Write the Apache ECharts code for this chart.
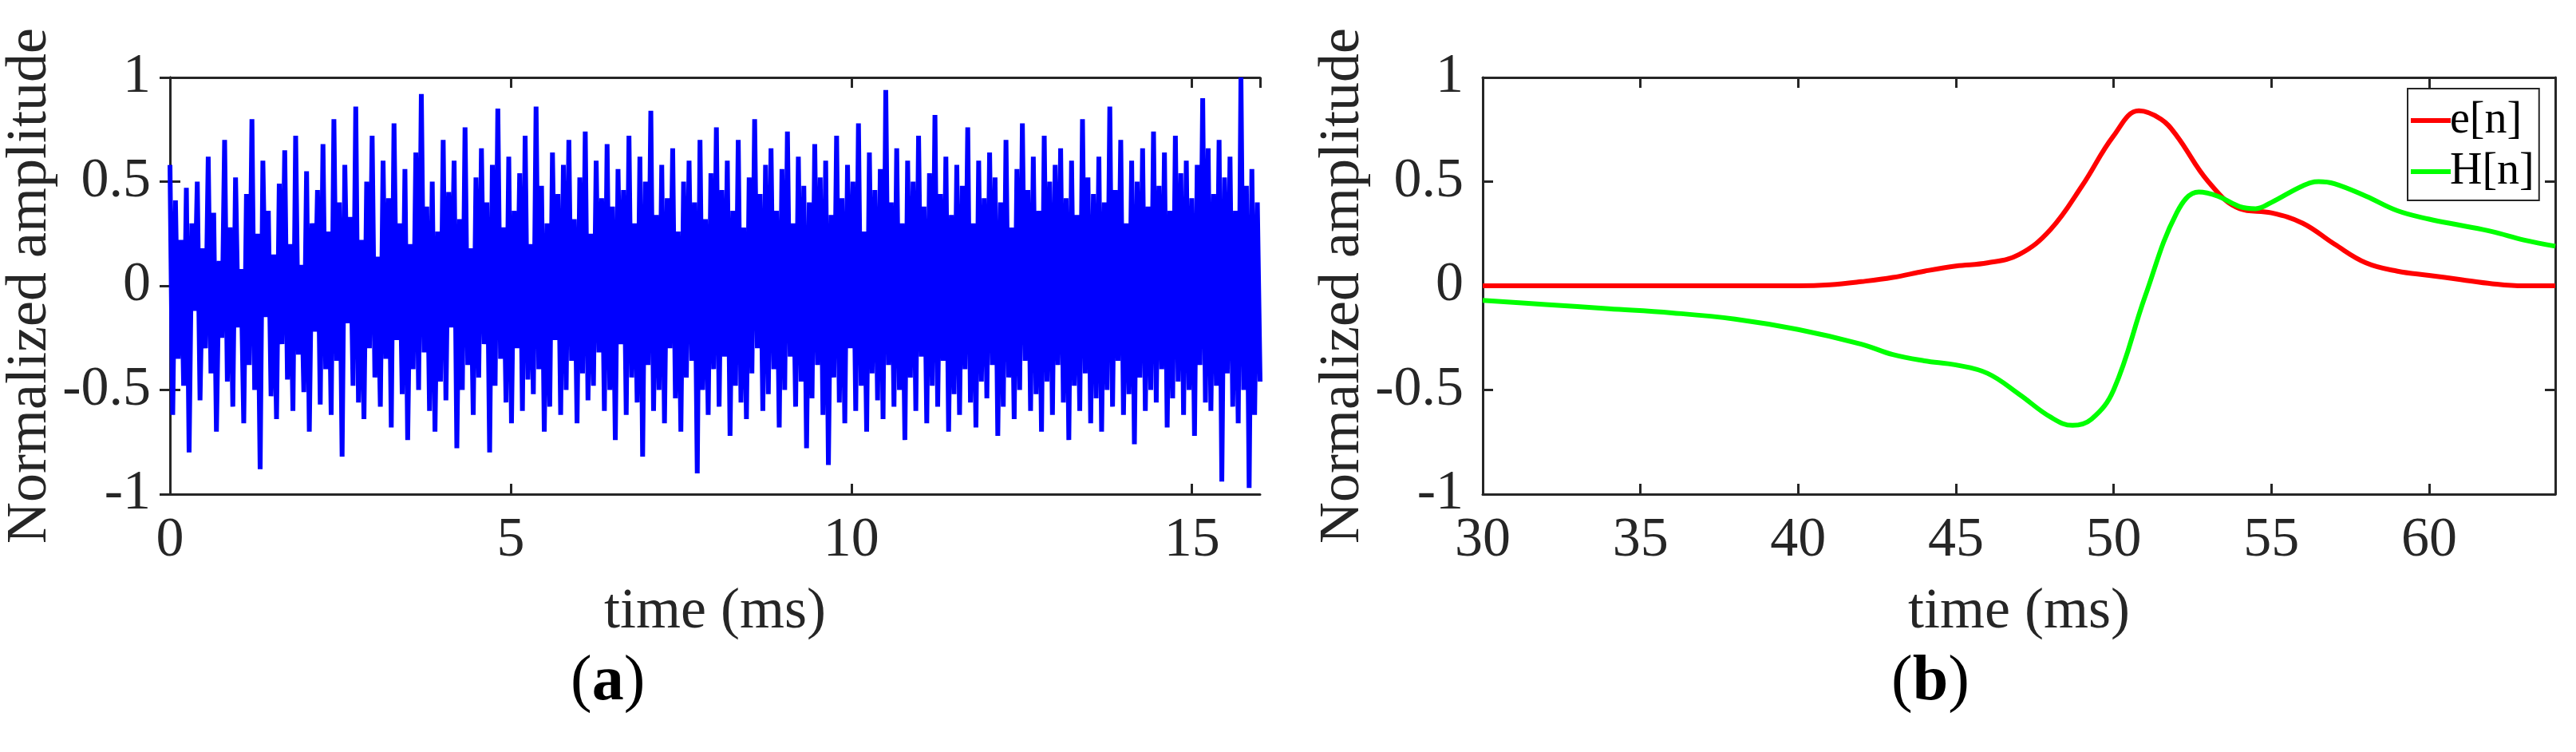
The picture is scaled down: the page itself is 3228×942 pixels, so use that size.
<!DOCTYPE html>
<html><head><meta charset="utf-8">
<script src="https://cdn.jsdelivr.net/npm/echarts@6/dist/echarts.min.js"></script>
<style>html,body{margin:0;background:#fff}#c{width:3228px;height:942px}</style>
</head><body><div id="c"></div>
<script>
// Panel (a): noise samples (0..16 ms)
const noiseVals = [
0.58,-0.62,0.41,-0.35,0.22,-0.48,0.47,-0.8,0.3,-0.12,0.5,-0.55,0.18,-0.3,0.62,-0.42,0.35,-0.7,0.12,-0.25,
0.7,-0.46,0.28,-0.58,0.52,-0.2,0.08,-0.66,0.44,-0.38,0.8,-0.5,0.25,-0.88,0.6,-0.15,0.36,-0.53,0.15,-0.64,
0.49,-0.28,0.65,-0.45,0.2,-0.6,0.72,-0.33,0.1,-0.51,0.55,-0.7,0.3,-0.22,0.46,-0.57,0.68,-0.4,0.26,-0.62,
0.8,-0.36,0.4,-0.82,0.58,-0.18,0.33,-0.48,0.86,-0.56,0.22,-0.64,0.5,-0.3,0.72,-0.44,0.14,-0.58,0.6,-0.35,
0.42,-0.68,0.78,-0.26,0.3,-0.52,0.56,-0.74,0.2,-0.4,0.64,-0.5,0.92,-0.32,0.38,-0.6,0.5,-0.7,0.26,-0.46,
0.7,-0.55,0.45,-0.2,0.6,-0.78,0.32,-0.5,0.76,-0.38,0.18,-0.62,0.52,-0.44,0.66,-0.28,0.4,-0.8,0.58,-0.48,
0.85,-0.35,0.28,-0.56,0.62,-0.66,0.36,-0.3,0.54,-0.6,0.72,-0.45,0.2,-0.52,0.86,-0.4,0.48,-0.7,0.3,-0.58,
0.64,-0.26,0.44,-0.62,0.58,-0.5,0.7,-0.36,0.32,-0.66,0.52,-0.42,0.74,-0.55,0.25,-0.48,0.6,-0.32,0.42,-0.6,
0.68,-0.5,0.38,-0.74,0.56,-0.28,0.46,-0.62,0.72,-0.44,0.3,-0.56,0.62,-0.82,0.5,-0.38,0.84,-0.6,0.34,-0.5,
0.58,-0.66,0.42,-0.3,0.66,-0.54,0.26,-0.7,0.5,-0.44,0.6,-0.36,0.4,-0.9,0.7,-0.5,0.32,-0.62,0.54,-0.4,
0.76,-0.58,0.46,-0.34,0.6,-0.72,0.36,-0.48,0.7,-0.56,0.28,-0.64,0.52,-0.42,0.8,-0.3,0.44,-0.6,0.58,-0.52,
0.66,-0.4,0.36,-0.68,0.56,-0.5,0.74,-0.34,0.3,-0.58,0.62,-0.46,0.48,-0.78,0.4,-0.54,0.68,-0.38,0.52,-0.62,
0.6,-0.86,0.34,-0.44,0.72,-0.56,0.42,-0.66,0.58,-0.3,0.5,-0.6,0.78,-0.48,0.26,-0.7,0.64,-0.42,0.46,-0.55,
0.56,-0.64,0.94,-0.38,0.4,-0.58,0.66,-0.5,0.3,-0.74,0.6,-0.44,0.5,-0.6,0.72,-0.34,0.38,-0.66,0.54,-0.48,
0.82,-0.58,0.44,-0.36,0.62,-0.7,0.34,-0.52,0.58,-0.62,0.48,-0.4,0.76,-0.56,0.3,-0.68,0.6,-0.46,0.42,-0.54,
0.64,-0.38,0.52,-0.72,0.4,-0.58,0.7,-0.44,0.28,-0.64,0.56,-0.5,0.78,-0.36,0.46,-0.6,0.62,-0.52,0.36,-0.7,
0.72,-0.46,0.5,-0.62,0.58,-0.38,0.66,-0.56,0.42,-0.74,0.6,-0.48,0.34,-0.6,0.8,-0.42,0.52,-0.66,0.44,-0.54,
0.62,-0.7,0.4,-0.5,0.86,-0.58,0.46,-0.36,0.7,-0.62,0.3,-0.52,0.6,-0.76,0.5,-0.44,0.66,-0.6,0.38,-0.5,
0.74,-0.56,0.48,-0.4,0.64,-0.68,0.36,-0.54,0.72,-0.46,0.54,-0.62,0.6,-0.5,0.42,-0.72,0.58,-0.38,0.9,-0.56,
0.66,-0.6,0.44,-0.48,0.7,-0.94,0.52,-0.42,0.62,-0.58,0.36,-0.66,1.0,-0.5,0.48,-0.97,0.56,-0.62,0.4,-0.46
];
const noiseMax = 16;
// Panel (b)
const eT = [30,32,34,36,38,40,41,42,43,44,45,46,47,48,49,50,50.8,51.5,52,53,54,55,56,57,58,59,60,61,62,63,64];
const eV = [0,0,0,0,0,0,0.005,0.02,0.04,0.07,0.095,0.11,0.15,0.27,0.48,0.72,0.84,0.8,0.72,0.5,0.37,0.35,0.3,0.2,0.11,0.07,0.05,0.03,0.01,0,0];
const hT = [30,32,34,36,38,40,42,43,44,45,46,47,48,48.7,49.3,50,51,52,52.7,53.3,54,54.5,55,56,56.5,57,58,59,60,61,62,63,64];
const hV = [-0.07,-0.09,-0.11,-0.13,-0.16,-0.21,-0.28,-0.33,-0.36,-0.38,-0.42,-0.52,-0.63,-0.67,-0.64,-0.5,-0.05,0.35,0.45,0.43,0.38,0.37,0.4,0.48,0.5,0.49,0.43,0.36,0.32,0.29,0.26,0.22,0.19];

const noiseData = noiseVals.map((v,i)=>[i*noiseMax/(noiseVals.length-1), v]);
const F = 'Liberation Serif';
const axCol = '#262626';
function yAxis(gi, show){
  return {type:'value', gridIndex:gi, min:-1, max:1, interval:0.5, position: show?'left':'right',
    axisLine:{show:true, lineStyle:{color:axCol,width:3}},
    axisTick:{show:true, inside:true, length:13, lineStyle:{color:axCol,width:3}},
    axisLabel:{show:show, color:axCol, fontFamily:F, fontSize:70, margin:24},
    splitLine:{show:false},
    name: show?'Normalized amplitude':'', nameLocation:'middle', nameGap:120, nameRotate:90,
    nameTextStyle:{color:axCol, fontFamily:F, fontSize:72}};
}
function xAxis(gi, min, max, show){
  return {type:'value', gridIndex:gi, min:min, max:max, interval:5, position: show?'bottom':'top',
    axisLine:{show:true, onZero:false, lineStyle:{color:axCol,width:3}},
    axisTick:{show:true, inside:true, length:13, lineStyle:{color:axCol,width:3}},
    axisLabel:{show:show, color:axCol, fontFamily:F, fontSize:70, margin:24, showMaxLabel:false},
    splitLine:{show:false},
    name: show?'time (ms)':'', nameLocation:'middle', nameGap:112,
    nameTextStyle:{color:axCol, fontFamily:F, fontSize:72}};
}
const chart = echarts.init(document.getElementById('c'));
chart.setOption({
  animation:false,
  grid:[{left:213, top:97, width:1366, height:522},{left:1858, top:97, width:1344, height:522}],
  xAxis:[xAxis(0,0,noiseMax,true), xAxis(0,0,noiseMax,false), xAxis(1,30,64,true), xAxis(1,30,64,false)],
  yAxis:[yAxis(0,true), yAxis(0,false), yAxis(1,true), yAxis(1,false)],
  legend:{left:3017, top:111, orient:'vertical', data:['e[n]','H[n]'],
    backgroundColor:'#fff', borderColor:axCol, borderWidth:2, padding:[12,6,8,4],
    itemWidth:50, itemHeight:6, itemGap:8, icon:'rect',
    textStyle:{fontFamily:F, fontSize:56, color:'#000', padding:[0,0,0,-6]}},
  series:[
    {type:'line', xAxisIndex:0, yAxisIndex:0, data:noiseData, showSymbol:false, lineStyle:{color:'#0000ff', width:6}, itemStyle:{color:'#0000ff'}},
    {name:'e[n]', type:'line', xAxisIndex:2, yAxisIndex:2, data:eT.map((t,i)=>[t,eV[i]]), smooth:0.4, showSymbol:false, lineStyle:{color:'#ff0000', width:6}, itemStyle:{color:'#ff0000'}},
    {name:'H[n]', type:'line', xAxisIndex:2, yAxisIndex:2, data:hT.map((t,i)=>[t,hV[i]]), smooth:0.4, showSymbol:false, lineStyle:{color:'#00ff00', width:6}, itemStyle:{color:'#00ff00'}}
  ],
  graphic:[
    {type:'text', left:715, top:815, style:{text:'({b|a})', font:'80px "Liberation Serif"', fill:'#000',
      rich:{b:{fontWeight:'bold', fontFamily:F, fontSize:80}}}},
    {type:'text', left:2370, top:815, style:{text:'({b|b})', font:'80px "Liberation Serif"', fill:'#000',
      rich:{b:{fontWeight:'bold', fontFamily:F, fontSize:80}}}}
  ]
});
</script></body></html>
